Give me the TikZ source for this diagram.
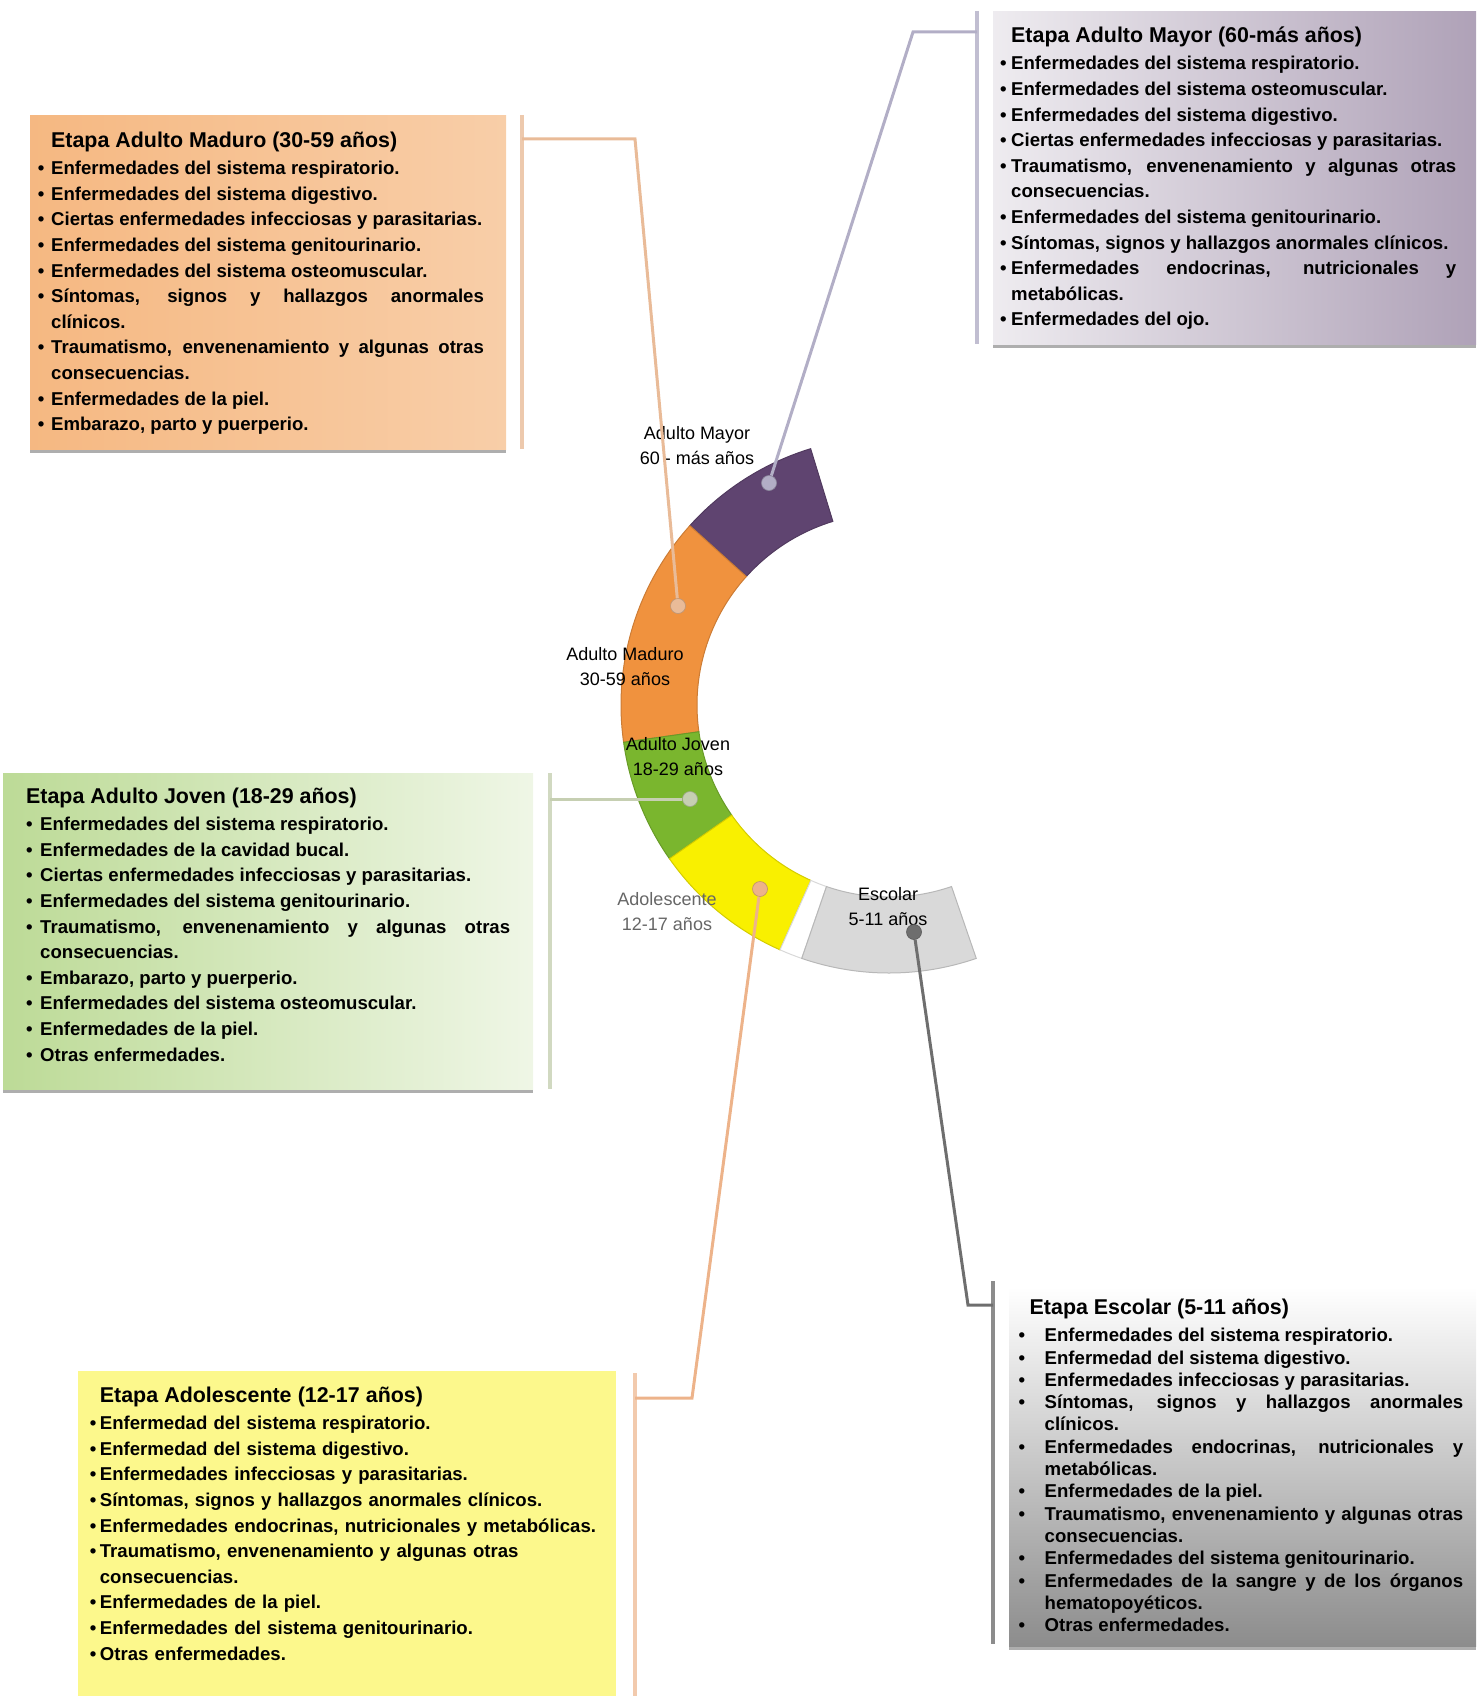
\documentclass[tikz,border=0pt]{standalone}
\usepackage{fontspec}
\setmainfont{Liberation Sans}[WordSpace={1,1,0}]
\usetikzlibrary{positioning}
\usetikzlibrary{shadows}
\usetikzlibrary{calc}
\definecolor{ColorMayor}{HTML}{5F4470}
\definecolor{ColorMaduro}{HTML}{F0923E}
\definecolor{ColorJoven}{HTML}{7AB62E}
\definecolor{ColorAdolescente}{HTML}{F9F000}
\definecolor{ColorEscolar}{HTML}{D9D9D9}
\definecolor{LineaMayor}{HTML}{B2AEC6}
\definecolor{LineaMaduro}{HTML}{E9BB98}
\definecolor{LineaJoven}{HTML}{C6CFB2}
\definecolor{LineaAdolescente}{HTML}{EDB38A}
\definecolor{LineaEscolar}{HTML}{6E6E6E}
\setlength{\parindent}{0pt}
\hyphenpenalty=10000
\hbadness=10000
\newlength{\sangria}
\newcommand{\vineta}[1]{\par\hangindent=\sangria\hangafter=1\noindent\makebox[\sangria][l]{\textbullet}#1}
\newcommand{\titulo}[2]{{\fontsize{21.4}{27}\selectfont\noindent\hspace*{#1}#2\par}\vspace{\dimexpr27pt-\baselineskip\relax}}

\begin{document}
\begin{tikzpicture}[x=1pt,y=1pt,
  caja/.style={rectangle, inner sep=0pt, anchor=north west,
    drop shadow={shadow xshift=0pt, shadow yshift=-4pt, fill=black!45, opacity=.7}},
  texto/.style={anchor=north west, inner sep=0pt, align=justify,
    font=\fontsize{18.6}{25.6}\selectfont\bfseries},
  barra/.style={line width=3.5pt, draw=#1},
  conector/.style={line width=3pt, draw=#1},
  punto/.style={circle, fill=#1, draw=#1!80!black, line width=.6pt, minimum size=15pt, inner sep=0pt},
  etiqueta/.style={font=\fontsize{18}{25}\selectfont, align=center}]
\useasboundingbox (0,0) rectangle (1476,-1696);

% Anillo de etapas
\coordinate (centro) at (889,-705);
\foreach \ini/\fin/\col in {107/138/ColorMayor, 138/188/ColorMaduro, 188/215/ColorJoven,
    215/246/ColorAdolescente, 246/251/white, 251/289/ColorEscolar}
  \draw[fill=\col, draw=\col!85!black, line width=1pt]
    ($(centro)+(\ini:268pt)$) arc[start angle=\ini, end angle=\fin, radius=268pt]
    -- ($(centro)+(\fin:192pt)$) arc[start angle=\fin, end angle=\ini, radius=192pt] -- cycle;

% Etiquetas del anillo
\node[etiqueta] (eMayor) at (697,-446) {Adulto Mayor\\60 - más años};
\node[etiqueta] (eMaduro) at (625,-667) {Adulto Maduro\\30-59 años};
\node[etiqueta] (eJoven) at (678,-757) {Adulto Joven\\18-29 años};
\node[etiqueta, text=black!60] (eAdolescente) at (667,-912) {Adolescente\\12-17 años};
\node[etiqueta] (eEscolar) at (888,-907) {Escolar\\5-11 años};

% Cajas
\node[caja, minimum width=483pt, minimum height=333pt, left color=black!8!ColorMayor!10, right color=ColorMayor!50!white]
  (cMayor) at (993,-11) {};
\node[caja, minimum width=476pt, minimum height=334pt, left color=ColorMaduro!65!white,
  middle color=ColorMaduro!18!white, right color=ColorMaduro!45!white]
  (cMaduro) at (30,-115) {};
\node[caja, minimum width=530pt, minimum height=316pt, left color=ColorJoven!50!white, right color=ColorJoven!12!white]
  (cJoven) at (3,-773) {};
\node[caja, minimum width=538pt, minimum height=340pt, fill=ColorAdolescente!45!white]
  (cAdolescente) at (78,-1371) {};
\node[caja, minimum width=467pt, minimum height=359pt, top color=white, bottom color=black!45]
  (cEscolar) at (1009,-1287) {};

% Barras laterales
\draw[barra=LineaMayor!80] (977,-11) -- (977,-344);
\draw[barra=LineaMaduro!80] (522,-115) -- (522,-449);
\draw[barra=LineaJoven!80] (550,-773) -- (550,-1089);
\draw[barra=LineaAdolescente!70] (635,-1373) -- (635,-1696);
\draw[barra=black!45] (993,-1281) -- (993,-1644);

% Textos
\node[texto, text width=456pt] (tMayor) at (1000,-27) {\setlength\sangria{11pt}%
  \titulo{11pt}{Etapa Adulto Mayor (60-más años)}
  \vineta{Enfermedades del sistema respiratorio.}
  \vineta{Enfermedades del sistema osteomuscular.}
  \vineta{Enfermedades del sistema digestivo.}
  \vineta{Ciertas enfermedades infecciosas y parasitarias.}
  \vineta{Traumatismo, envenenamiento y algunas otras consecuencias.}
  \vineta{Enfermedades del sistema genitourinario.}
  \vineta{Síntomas, signos y hallazgos anormales clínicos.}
  \vineta{Enfermedades endocrinas, nutricionales y metabólicas.}
  \vineta{Enfermedades del ojo.}};

\node[texto, text width=446pt] (tMaduro) at (37.7,-132) {\setlength\sangria{13.3pt}%
  \titulo{13.3pt}{Etapa Adulto Maduro (30-59 años)}
  \vineta{Enfermedades del sistema respiratorio.}
  \vineta{Enfermedades del sistema digestivo.}
  \vineta{Ciertas enfermedades infecciosas y parasitarias.}
  \vineta{Enfermedades del sistema genitourinario.}
  \vineta{Enfermedades del sistema osteomuscular.}
  \vineta{Síntomas, signos y hallazgos anormales clínicos.}
  \vineta{Traumatismo, envenenamiento y algunas otras consecuencias.}
  \vineta{Enfermedades de la piel.}
  \vineta{Embarazo, parto y puerperio.}};

\node[texto, text width=484pt] (tJoven) at (26,-788) {\setlength\sangria{14pt}%
  \titulo{0pt}{Etapa Adulto Joven (18-29 años)}
  \vineta{Enfermedades del sistema respiratorio.}
  \vineta{Enfermedades de la cavidad bucal.}
  \vineta{Ciertas enfermedades infecciosas y parasitarias.}
  \vineta{Enfermedades del sistema genitourinario.}
  \vineta{Traumatismo, envenenamiento y algunas otras consecuencias.}
  \vineta{Embarazo, parto y puerperio.}
  \vineta{Enfermedades del sistema osteomuscular.}
  \vineta{Enfermedades de la piel.}
  \vineta{Otras enfermedades.}};

\node[texto, align=left, text width=525pt] (tAdolescente) at (89.7,-1387) {\setlength\sangria{10pt}%
  \titulo{10pt}{Etapa Adolescente (12-17 años)}
  \vineta{Enfermedad del sistema respiratorio.}
  \vineta{Enfermedad del sistema digestivo.}
  \vineta{Enfermedades infecciosas y parasitarias.}
  \vineta{Síntomas, signos y hallazgos anormales clínicos.}
  \vineta{Enfermedades endocrinas, nutricionales y metabólicas.}
  \vineta{Traumatismo, envenenamiento y algunas otras consecuencias.}
  \vineta{Enfermedades de la piel.}
  \vineta{Enfermedades del sistema genitourinario.}
  \vineta{Otras enfermedades.}};

\node[texto, text width=444.5pt, font=\fontsize{18.6}{22.3}\selectfont\bfseries] (tEscolar) at (1018.5,-1299) {\setlength\sangria{26pt}%
  \titulo{11pt}{Etapa Escolar (5-11 años)}
  \vineta{Enfermedades del sistema respiratorio.}
  \vineta{Enfermedad del sistema digestivo.}
  \vineta{Enfermedades infecciosas y parasitarias.}
  \vineta{Síntomas, signos y hallazgos anormales clínicos.}
  \vineta{Enfermedades endocrinas, nutricionales y metabólicas.}
  \vineta{Enfermedades de la piel.}
  \vineta{Traumatismo, envenenamiento y algunas otras consecuencias.}
  \vineta{Enfermedades del sistema genitourinario.}
  \vineta{Enfermedades de la sangre y de los órganos hematopoyéticos.}
  \vineta{Otras enfermedades.}};

% Puntos sobre el anillo
\node[punto=LineaMayor] (pMayor) at (769,-483) {};
\node[punto=LineaMaduro] (pMaduro) at (678,-606) {};
\node[punto=LineaJoven] (pJoven) at (690,-799) {};
\node[punto=LineaAdolescente] (pAdolescente) at (760,-889) {};
\node[punto=LineaEscolar] (pEscolar) at (914,-932) {};

% Conectores
\coordinate (bMayor) at (977,-32);
\coordinate (bMaduro) at (522,-139);
\coordinate (bJoven) at (550,-799);
\coordinate (bAdolescente) at (635,-1398);
\coordinate (bEscolar) at (993,-1305);
\draw[conector=LineaMayor] (bMayor) -- ++(-64,0) -- (pMayor);
\draw[conector=LineaMaduro] (bMaduro) -- ++(113,0) -- (pMaduro);
\draw[conector=LineaJoven] (bJoven) -- (pJoven);
\draw[conector=LineaAdolescente] (bAdolescente) -- ++(57,0) -- (pAdolescente);
\draw[conector=LineaEscolar] (bEscolar) -- ++(-25,0) -- (pEscolar);
\end{tikzpicture}
\end{document}
